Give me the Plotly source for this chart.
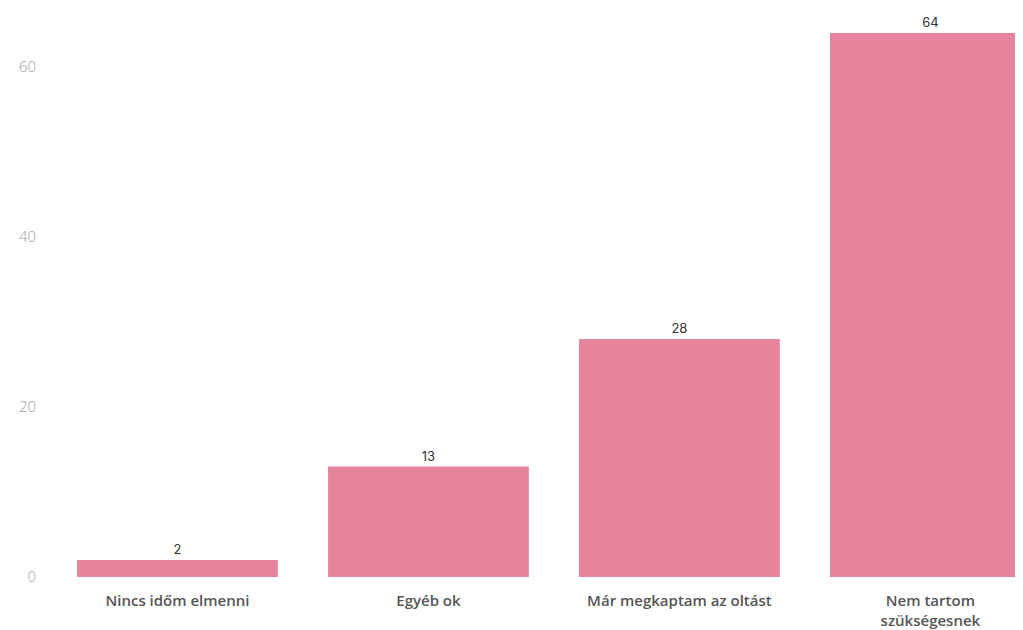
import plotly.graph_objects as go

categories = ["Nincs időm elmenni", "Egyéb ok", "Már megkaptam az oltást", "Nem tartom<br>szükségesnek"]
values = [2, 13, 28, 64]
y_ticks = [0, 20, 40, 60]

bar_color = "#e5849c"

fig = go.Figure(go.Bar(
    x=categories,
    y=values,
    marker=dict(color=bar_color, line=dict(width=0)),
    text=[str(v) for v in values],
    textposition="outside",
    textfont=dict(family="Inter", size=13, color="#333333"),
    cliponaxis=False,
    width=0.8,
))

# page body adds an 8px offset, so margins are set to compensate
fig.update_layout(
    width=1015,
    height=622,
    margin=dict(l=44, r=0, t=0, b=53, autoexpand=False),
    paper_bgcolor="rgba(0,0,0,0)",
    plot_bgcolor="rgba(0,0,0,0)",
    showlegend=False,
    xaxis=dict(
        range=[-0.5, 3.369],
        showgrid=False,
        showline=False,
        ticks="",
        ticklabelstandoff=13,
        tickfont=dict(family="Open Sans", size=15, color="#555555", weight=600),
    ),
    yaxis=dict(
        range=[0, 66.94],
        tickvals=y_ticks,
        showgrid=False,
        zeroline=False,
        showline=False,
        ticks="",
        ticklabelstandoff=15,
        tickfont=dict(family="Open Sans", size=15, color="#a0a0a0", weight=300),
    ),
)

fig.write_html("out.html")
